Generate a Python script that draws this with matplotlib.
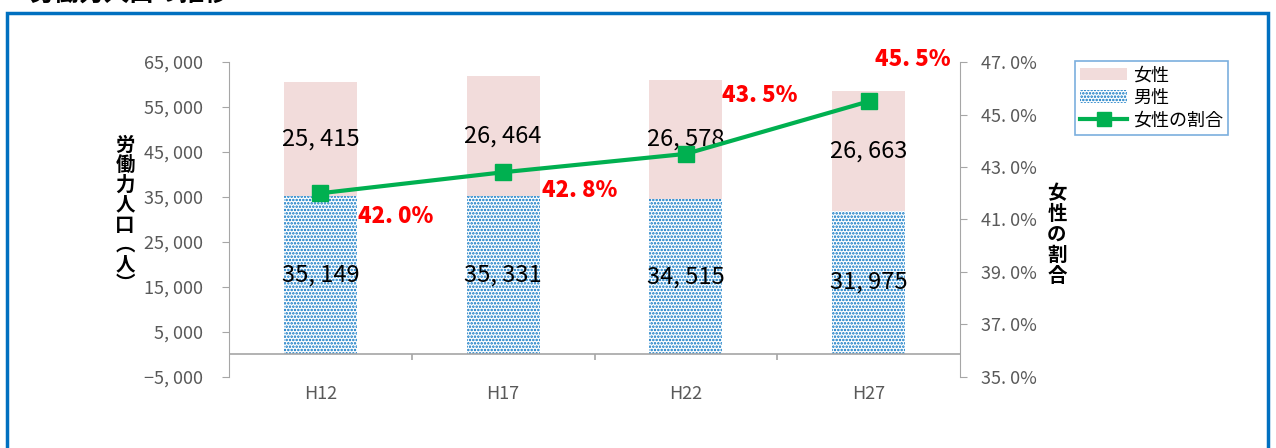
import numpy as np
import matplotlib
matplotlib.use('Agg')
import matplotlib.pyplot as plt
from matplotlib.patches import Patch, Rectangle
from matplotlib.lines import Line2D

plt.rcParams['font.family'] = ['Noto Sans CJK JP', 'DejaVu Sans']
plt.rcParams['hatch.linewidth'] = 1.2

# data
years = ['H12', 'H17', 'H22', 'H27']
men = [35149, 35331, 34515, 31975]
women = [25415, 26464, 26578, 26663]
ratio = [42.0, 42.8, 43.5, 45.5]
yticks = [-5000, 5000, 15000, 25000, 35000, 45000, 55000, 65000]
rticks = [35, 37, 39, 41, 43, 45, 47]

PINK = '#F2DCDB'
BLUE = '#0070C0'
GREEN = '#00B050'
GRAY = '#595959'

fig = plt.figure(figsize=(12.76, 4.48), dpi=100)
ax = fig.add_axes([0.1795, 0.1585, 0.5729, 0.7031])
ax2 = ax.twinx()

x = np.arange(len(years))
ax.bar(x, men, width=0.4, color='white', edgecolor=BLUE, hatch='.....', linewidth=0)
ax.bar(x, women, width=0.4, bottom=men, color=PINK, linewidth=0)

for i in range(len(years)):
    ax.text(x[i], men[i] / 2, f'{men[i]:,}'.replace(',', ', '), ha='center', va='center',
            fontsize=17, color='black')
    ax.text(x[i], men[i] + women[i] / 2, f'{women[i]:,}'.replace(',', ', '), ha='center',
            va='center', fontsize=17, color='black')

ax.set_xlim(-0.5, 3.5)
ax.set_ylim(-5000, 65000)
ax.set_yticks(yticks)
ax.set_yticklabels([f'{v:,}'.replace(',', ', ').replace('-', '−') for v in yticks])
ax.set_xticks(x)
ax.set_xticklabels(years)
ax.tick_params(axis='x', length=0, pad=6, labelsize=13, colors=GRAY)
ax.tick_params(axis='y', direction='out', length=5, color='#A6A6A6', labelsize=13,
               labelcolor=GRAY, pad=14)
ax.axhline(0, color='#A6A6A6', lw=1.2)
ax.vlines([0.5, 1.5, 2.5], -1200, 0, color='#A6A6A6', lw=1.2)
for s in ['top', 'bottom', 'right']:
    ax.spines[s].set_visible(False)
ax.spines['left'].set_color('#A6A6A6')

# ratio line
ax2.plot(x, ratio, color=GREEN, lw=3, marker='s', markersize=11, zorder=5)
ax2.set_ylim(35, 47)
ax2.set_yticks(rticks)
ax2.set_yticklabels([f'{v:.1f}'.replace('.', '. ') + '%' for v in rticks])
ax2.tick_params(axis='y', direction='out', length=5, color='#A6A6A6', labelsize=13,
                labelcolor=GRAY, pad=10)
for s in ['top', 'bottom', 'left']:
    ax2.spines[s].set_visible(False)
ax2.spines['right'].set_color('#A6A6A6')

offsets = [(54, -17), (55, -13), (53, 42), (32, 30)]
for i in range(len(years)):
    ax2.annotate(f'{ratio[i]:.1f}'.replace('.', '. ') + '%', (x[i], ratio[i]),
                 xytext=offsets[i], textcoords='offset points', ha='center', va='center',
                 fontsize=16, fontweight='heavy', color='#FF0000')

# axis titles, stacked vertically
fig.text(125 / 1276, 1 - 215 / 448, '\n'.join('労働力人口︵人︶'), ha='center', va='center',
         fontsize=14, fontweight='bold', linespacing=1.05)
fig.text(1057 / 1276, 1 - 235 / 448, '\n'.join('女性の割合'), ha='center', va='center',
         fontsize=14, fontweight='bold', linespacing=1.1)

handles = [Patch(facecolor=PINK, edgecolor='none', label='女性'),
           Patch(facecolor='white', edgecolor=BLUE, hatch='.....', linewidth=0, label='男性'),
           Line2D([], [], color=GREEN, lw=3, marker='s', markersize=10, label='女性の割合')]
leg = fig.legend(handles=handles, loc='upper left', bbox_to_anchor=(1066 / 1276, 1 - 52 / 448),
                 fontsize=13, frameon=True, fancybox=False, handlelength=2.6,
                 handletextpad=0.3, labelspacing=0.25, borderpad=0.3)
leg.get_frame().set_edgecolor('#5B9BD5')
leg.get_frame().set_linewidth(1.2)

# outer frame and title (cut off at the top edge, as in the source)
fig.patches.append(Rectangle((7 / 1276, -0.05), 1261 / 1276, 1 - 13 / 448 + 0.05,
                             transform=fig.transFigure, fill=False, edgecolor=BLUE, lw=2.5))
fig.text(30 / 1276, 1.014, '労働力人口の推移', ha='left', va='center', fontsize=18,
         fontweight='bold')

fig.savefig('out.png', dpi=100)
